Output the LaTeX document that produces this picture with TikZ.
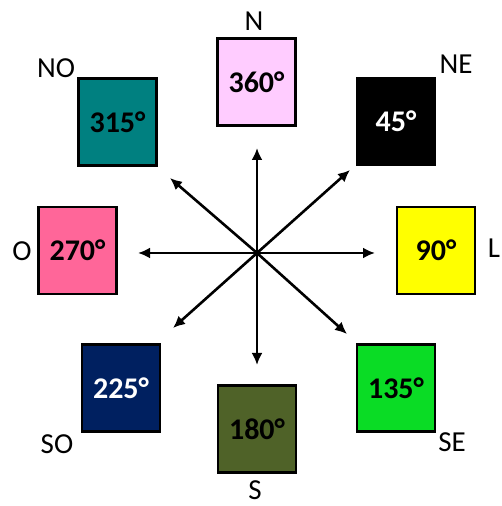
\documentclass[tikz,border=0pt]{standalone}
\usepackage{fontspec}
\setmainfont{Carlito}
\usetikzlibrary{arrows.meta}

\definecolor{rosa}{HTML}{FFCCFF}
\definecolor{petroleo}{HTML}{008080}
\definecolor{rosaforte}{HTML}{FF6699}
\definecolor{amarelo}{HTML}{FFFF00}
\definecolor{marinho}{HTML}{002060}
\definecolor{oliva}{HTML}{4F6228}
\definecolor{verde}{HTML}{0ADC25}

\begin{document}
\begin{tikzpicture}
				[x=1pt, y=1pt,
				box/.style = {draw, line width=2.8pt, minimum width=78pt,
				minimum height=87pt, font=\bfseries\fontsize{30}{30}\selectfont},
				rumo/.style = {inner sep=0pt, font=\fontsize{29}{29}\selectfont},
				>={Latex[length=12pt, width=11pt]}, line width=2.6pt]
				\useasboundingbox (0,0) rectangle (501,506);
				% caixas dos graus
				\node[box, fill=rosa] (n) at (256.5,424) {360°};
				\node[box, fill=black, text=white] (ne) at (396,384.5) {45°};
				\node[box, fill=amarelo] (l) at (436,255.5) {90°};
				\node[box, fill=verde] (se) at (396,118) {135°};
				\node[box, fill=oliva] (s) at (257,77) {180°};
				\node[box, fill=marinho, text=white] (so) at (121,118) {225°};
				\node[box, fill=rosaforte] (o) at (77.5,255.5) {270°};
				\node[box, fill=petroleo] (no) at (117.5,384) {315°};
				% pontos cardeais
				\foreach \p/\x/\y in {N/254/485, NE/456/442, L/494/258, SE/452/64,
					S/255/16, SO/57/62, O/22/255, NO/56/438} {
					\node[rumo] (r\p) at (\x,\y) {\p};
				}
				% rosa dos ventos
				\coordinate (c) at (257,253);
				\foreach \p/\x/\y in {n/257/358, ne/350/336, l/375/253, se/347/172,
					s/257/141, so/173/178, o/138/253, no/170/328} {
					\coordinate (t\p) at (\x,\y);
				}
				\draw[->] (c) -- (tn);
				\draw[->] (c) -- (tne);
				\draw[->] (c) -- (tl);
				\draw[->] (c) -- (tse);
				\draw[->] (c) -- (ts);
				\draw[->] (c) -- (tso);
				\draw[->] (c) -- (to);
				\draw[->] (c) -- (tno);
			\end{tikzpicture}
\end{document}
